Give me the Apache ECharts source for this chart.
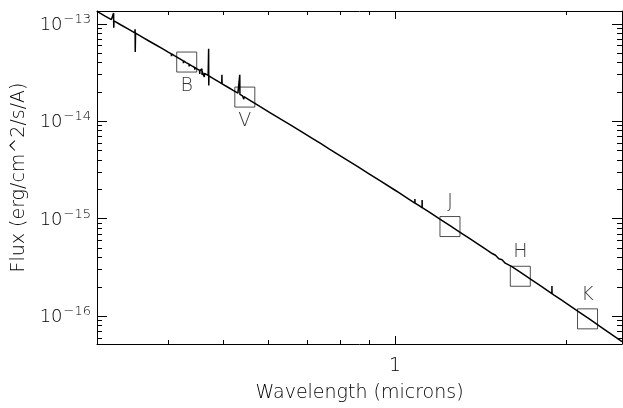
<!DOCTYPE html>
<html><head><meta charset="utf-8">
<script src="https://cdn.jsdelivr.net/npm/echarts@6/dist/echarts.min.js"></script>
<style>html,body{margin:0;padding:0;background:#fff}#c{width:623px;height:408px}</style>
</head><body><div id="c"></div>
<script>
// Spectrum (wavelength in microns, flux in erg/cm^2/s/A)
const specWave = [
0.300,0.310,0.318,0.3205,0.3208,0.3210,0.3213,0.330,0.340,0.3495,0.3499,0.3501,0.3505,
0.356,0.3565,0.357,0.362,0.3625,0.363,0.370,0.380,0.390,0.400,0.405,0.4053,0.4056,0.410,
0.420,0.425,0.4253,0.4256,0.430,0.435,0.4353,0.4356,0.440,0.445,0.4453,0.4456,0.450,
0.454,0.4543,0.4546,0.458,0.4583,0.4586,0.4589,0.460,0.4625,0.4628,0.4631,0.470,
0.4705,0.4709,0.4711,0.4715,0.480,0.490,0.4965,0.4968,0.4972,0.500,0.510,0.520,0.530,
0.5337,0.5340,0.5343,0.540,0.5425,0.5428,0.5431,0.560,0.580,0.600,0.630,
0.654,0.6543,0.6546,0.686,0.6863,0.6866,0.718,0.7183,0.7186,0.740,0.767,0.7673,0.7676,
0.820,0.8203,0.8206,0.860,0.900,0.939,0.9393,0.9396,1.000,1.014,1.0143,1.0146,1.050,
1.083,1.0833,1.0836,1.100,1.115,1.1153,1.1156,1.150,1.200,1.250,1.300,1.350,1.400,
1.437,1.4373,1.4376,1.450,1.480,1.490,1.500,1.520,1.540,1.560,1.600,1.650,1.700,
1.720,1.7203,1.7206,1.800,1.8835,1.884,1.8845,1.900,1.960,1.9603,1.9606,2.000,2.100,
2.200,2.290,2.2903,2.2906,2.300,2.400,2.500];
const specFlux = [
1.34e-13,1.20e-13,1.105e-13,1.075e-13,1.29e-13,9.1e-14,1.07e-13,9.77e-14,8.85e-14,8.06e-14,8.77e-14,5.13e-14,8.00e-14,
7.59e-14,7.25e-14,7.54e-14,7.17e-14,6.85e-14,7.12e-14,6.66e-14,6.09e-14,5.58e-14,5.12e-14,4.91e-14,4.65e-14,4.90e-14,4.71e-14,
4.34e-14,4.16e-14,3.95e-14,4.15e-14,4.00e-14,3.85e-14,3.65e-14,3.84e-14,3.70e-14,3.56e-14,3.38e-14,3.55e-14,3.42e-14,
3.32e-14,3.05e-14,3.31e-14,3.22e-14,3.45e-14,2.98e-14,3.21e-14,3.17e-14,3.11e-14,2.85e-14,3.10e-14,2.95e-14,
2.94e-14,5.53e-14,2.33e-14,2.92e-14,2.74e-14,2.55e-14,2.43e-14,3.00e-14,2.42e-14,2.38e-14,2.22e-14,2.07e-14,1.94e-14,
1.895e-14,3.00e-14,1.885e-14,1.82e-14,1.79e-14,1.68e-14,1.785e-14,1.60e-14,1.41e-14,1.25e-14,1.05e-14,
9.22e-15,8.95e-15,9.20e-15,7.77e-15,7.55e-15,7.76e-15,6.60e-15,6.42e-15,6.59e-15,5.92e-15,5.19e-15,5.03e-15,5.18e-15,
4.07e-15,3.95e-15,4.06e-15,3.42e-15,2.89e-15,2.47e-15,2.40e-15,2.47e-15,1.96e-15,1.86e-15,1.81e-15,1.86e-15,1.63e-15,
1.45e-15,1.59e-15,1.45e-15,1.37e-15,1.30e-15,1.56e-15,1.30e-15,1.16e-15,9.84e-16,8.43e-16,7.26e-16,6.28e-16,5.46e-16,
4.93e-16,4.75e-16,4.92e-16,4.76e-16,4.40e-16,4.24e-16,4.22e-16,3.88e-16,3.80e-16,3.50e-16,3.25e-16,2.88e-16,2.56e-16,
2.45e-16,2.36e-16,2.45e-16,2.05e-16,1.71e-16,2.04e-16,1.705e-16,1.65e-16,1.46e-16,1.41e-16,1.46e-16,1.35e-16,1.11e-16,
9.21e-17,7.83e-17,7.55e-17,7.82e-17,7.70e-17,6.48e-17,5.49e-17];

// Photometric points
const bandNames = ['B','V','J','H','K'];
const bandWave = [0.431, 0.545, 1.248, 1.658, 2.175];
const bandFlux = [4.05e-14, 1.77e-14, 8.32e-16, 2.57e-16, 9.40e-17];

// Axes
const xRange = [0.3, 2.5];
const yRange = [5.19e-17, 1.352e-13];
const xMajorTicks = [1];
const xMinorTicks = [0.4, 0.5, 0.6, 0.7, 0.8, 0.9, 2];
const yMajorTicks = [1e-13, 1e-14, 1e-15, 1e-16];
const yMinorMultipliers = [2, 3, 4, 5, 6, 7, 8, 9];
const yMinorDecades = [1e-14, 1e-15, 1e-16, 1e-17];

const L = Math.log10;
const FONT = 'DejaVu Sans';
const FW = 200;
const TXT = '#000';
const yMinorTicks = [];
yMinorDecades.forEach(d => yMinorMultipliers.forEach(m => {
  const v = m * d; if (v > yRange[0] && v < yRange[1]) yMinorTicks.push(v);
}));

function xAx(pos, vals, len, showLine, label) {
  return {
    type: 'value', position: pos, min: L(xRange[0]), max: L(xRange[1]),
    splitLine: {show: false},
    axisLine: {show: showLine, onZero: false, lineStyle: {color: '#000', width: 1}},
    axisTick: {show: true, inside: true, length: len, customValues: vals.map(L), lineStyle: {color: '#000', width: 1}},
    axisLabel: label ? {show: true, customValues: vals.map(L), margin: 13,
      formatter: v => String(Math.round(Math.pow(10, v))),
      fontFamily: FONT, fontWeight: FW, fontSize: 19, color: TXT} : {show: false}
  };
}
function yAx(pos, vals, len, showLine, label) {
  return {
    type: 'value', position: pos, min: L(yRange[0]), max: L(yRange[1]),
    splitLine: {show: false},
    axisLine: {show: showLine, onZero: false, lineStyle: {color: '#000', width: 1}},
    axisTick: {show: true, inside: true, length: len, customValues: vals.map(L), lineStyle: {color: '#000', width: 1}},
    axisLabel: label ? {show: true, customValues: vals.map(L), margin: 6,
      formatter: v => '{b|10}{s|\u2212' + Math.round(-v) + '}',
      rich: {
        b: {fontFamily: FONT, fontWeight: FW, fontSize: 18, color: TXT, padding: [3, 0, 0, 0]},
        s: {fontFamily: FONT, fontWeight: FW, fontSize: 13, color: TXT, verticalAlign: 'top', padding: [0, 0, 9, 1]}
      }} : {show: false}
  };
}

const x0 = xAx('bottom', xMajorTicks, 8, true, true);
x0.name = 'Wavelength (microns)';
x0.nameLocation = 'middle';
x0.nameGap = 40;
x0.nameTextStyle = {fontFamily: FONT, fontWeight: FW, fontSize: 19, color: TXT};
const y0 = yAx('left', yMajorTicks, 10, true, true);
y0.name = 'Flux (erg/cm^2/s/A)';
y0.nameLocation = 'middle';
y0.nameGap = 66;
y0.nameRotate = 90;
y0.nameTextStyle = {fontFamily: FONT, fontWeight: FW, fontSize: 19, color: TXT};

const chart = echarts.init(document.getElementById('c'), null, {renderer: 'canvas'});
chart.setOption({
  animation: false,
  backgroundColor: '#fff',
  grid: {left: 97, right: 1, top: 11, bottom: 57, containLabel: false},
  xAxis: [x0, xAx('bottom', xMinorTicks, 4, false, false),
          xAx('top', xMajorTicks, 8, true, false), xAx('top', xMinorTicks, 4, false, false)],
  yAxis: [y0, yAx('left', yMinorTicks, 5, false, false),
          yAx('right', yMajorTicks, 10, true, false), yAx('right', yMinorTicks, 5, false, false)],
  series: [
    {
      type: 'line', xAxisIndex: 0, yAxisIndex: 0,
      data: specWave.map((w, i) => [L(w), L(specFlux[i])]),
      showSymbol: false, symbol: 'none', silent: true,
      lineStyle: {color: '#000', width: 1.5}
    },
    {
      type: 'scatter', xAxisIndex: 0, yAxisIndex: 0, silent: true,
      symbol: 'rect', symbolSize: 20,
      itemStyle: {color: 'rgba(0,0,0,0)', borderColor: '#222', borderWidth: 1},
      label: {show: true, position: 'inside', formatter: '{b}', fontFamily: FONT, fontWeight: FW, fontSize: 19, color: TXT},
      data: bandNames.map((n, i) => ({
        name: n, value: [L(bandWave[i]), L(bandFlux[i])],
        label: {offset: [0, i < 2 ? 24 : -24]}
      }))
    }
  ]
});
</script></body></html>
